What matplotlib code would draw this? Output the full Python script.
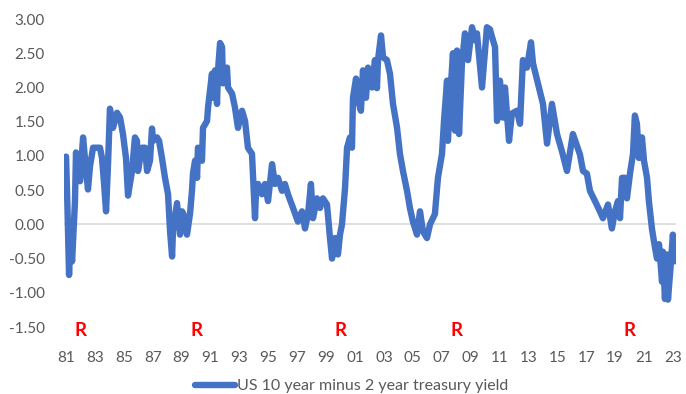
import numpy as np
import matplotlib.pyplot as plt

# 10y minus 2y US treasury spread, read as (decimal year, spread %)
years = [
    1981.00, 1981.07, 1981.14, 1981.21, 1981.28, 1981.42, 1981.55, 1981.62, 1981.69, 1981.83,
    1981.97, 1982.18, 1982.38, 1982.52, 1982.66, 1982.87, 1983.15, 1983.35, 1983.49, 1983.63,
    1983.77, 1983.91, 1984.04, 1984.25, 1984.53, 1984.74, 1984.94, 1985.15, 1985.29, 1985.57,
    1985.77, 1985.91, 1985.98, 1986.26, 1986.47, 1986.61, 1986.81, 1986.95, 1987.02, 1987.30,
    1987.44, 1987.64, 1987.85, 1988.06, 1988.20, 1988.34, 1988.40, 1988.54, 1988.68, 1988.89,
    1989.03, 1989.23, 1989.37, 1989.58, 1989.72, 1989.79, 1989.93, 1990.07, 1990.13, 1990.41,
    1990.48, 1990.76, 1990.83, 1991.10, 1991.17, 1991.31, 1991.45, 1991.52, 1991.66, 1991.80,
    1991.86, 1992.14, 1992.21, 1992.49, 1992.69, 1992.90, 1993.18, 1993.39, 1993.59, 1993.87,
    1994.08, 1994.15, 1994.29, 1994.56, 1994.77, 1994.98, 1995.26, 1995.46, 1995.67, 1995.95,
    1996.15, 1996.36, 1996.71, 1997.05, 1997.33, 1997.54, 1997.75, 1997.95, 1998.09, 1998.37,
    1998.58, 1998.78, 1999.06, 1999.27, 1999.41, 1999.61, 1999.82, 1999.96, 2000.10, 2000.31,
    2000.45, 2000.65, 2000.79, 2000.86, 2001.07, 2001.21, 2001.41, 2001.55, 2001.76, 2001.90,
    2002.18, 2002.38, 2002.52, 2002.59, 2002.80, 2002.94, 2003.21, 2003.42, 2003.63, 2003.91,
    2004.11, 2004.32, 2004.60, 2004.80, 2005.01, 2005.29, 2005.50, 2005.70, 2005.98, 2006.19,
    2006.53, 2006.74, 2007.02, 2007.16, 2007.37, 2007.43, 2007.57, 2007.78, 2007.92, 2008.06,
    2008.20, 2008.40, 2008.61, 2008.82, 2009.10, 2009.30, 2009.44, 2009.79, 2010.13, 2010.34,
    2010.48, 2010.69, 2010.83, 2011.03, 2011.24, 2011.38, 2011.66, 2011.86, 2012.21, 2012.42,
    2012.62, 2012.90, 2013.18, 2013.32, 2013.66, 2014.01, 2014.29, 2014.63, 2014.98, 2015.32,
    2015.67, 2016.08, 2016.57, 2016.78, 2017.05, 2017.26, 2017.61, 2017.95, 2018.16, 2018.51,
    2018.78, 2018.99, 2019.20, 2019.34, 2019.48, 2019.68, 2019.82, 2020.03, 2020.24, 2020.37,
    2020.51, 2020.65, 2020.86, 2021.00, 2021.21, 2021.34, 2021.55, 2021.69, 2021.90, 2022.04,
    2022.25, 2022.31, 2022.45, 2022.59, 2022.66, 2022.87, 2023.00, 2023.14,
]
spread = [
    0.99, 0.49, -0.10, -0.74, -0.25, -0.54, 0.04, 0.34, 1.05, 0.71,
    0.63, 1.27, 0.80, 0.51, 0.85, 1.12, 1.12, 1.12, 0.97, 0.60,
    0.19, 0.90, 1.69, 1.41, 1.63, 1.56, 1.32, 0.97, 0.42, 0.78,
    1.27, 1.22, 0.78, 1.12, 1.12, 0.78, 0.93, 1.40, 1.22, 1.27,
    1.22, 0.97, 0.68, 0.44, -0.10, -0.47, -0.10, 0.10, 0.31, -0.15,
    0.19, 0.10, -0.15, 0.15, 0.50, 0.75, 0.93, 0.68, 1.12, 0.93,
    1.41, 1.51, 1.71, 2.20, 1.85, 2.25, 1.76, 2.25, 2.65, 2.59,
    2.06, 2.29, 2.00, 1.91, 1.71, 1.41, 1.66, 1.51, 1.12, 1.03,
    0.09, 0.50, 0.59, 0.44, 0.59, 0.34, 0.88, 0.59, 0.68, 0.49,
    0.59, 0.44, 0.24, 0.04, 0.19, -0.06, 0.15, 0.59, 0.09, 0.38,
    0.24, 0.38, 0.29, -0.20, -0.50, -0.20, -0.44, -0.15, 0.00, 0.53,
    1.12, 1.27, 1.12, 1.85, 2.13, 1.81, 1.66, 2.25, 1.85, 2.29,
    2.00, 2.40, 1.99, 2.40, 2.76, 2.44, 2.40, 2.20, 1.76, 1.41,
    1.03, 0.78, 0.49, 0.24, 0.04, -0.15, 0.19, -0.10, -0.20, 0.00,
    0.15, 0.68, 1.03, 1.51, 2.10, 1.22, 1.81, 2.50, 1.37, 2.54,
    1.32, 2.35, 2.79, 2.40, 2.88, 2.69, 2.79, 2.00, 2.88, 2.85,
    2.74, 2.59, 1.51, 2.10, 1.56, 2.00, 1.22, 1.62, 1.66, 1.47,
    2.40, 2.29, 2.66, 2.35, 2.06, 1.76, 1.18, 1.76, 1.32, 1.07,
    0.78, 1.32, 1.02, 0.78, 0.74, 0.49, 0.34, 0.19, 0.09, 0.29,
    -0.06, 0.19, 0.34, 0.09, 0.68, 0.68, 0.38, 0.74, 1.03, 1.59,
    1.47, 0.97, 1.27, 0.93, 0.68, 0.34, -0.06, -0.25, -0.50, -0.29,
    -0.84, -0.40, -1.09, -0.44, -1.10, -0.54, -0.15, -0.54,
]

tick_years = list(range(1981, 2024, 2))
tick_labels = ['%02d' % (y % 100) for y in tick_years]

# recessions flagged with an "R" under the axis
recession_years = [1982.0, 1990.0, 2000.0, 2008.0, 2020.0, 2024.2]

blue = '#4472C4'
grey = '#595959'
plt.rcParams['font.family'] = ['Lato', 'DejaVu Sans']

fig = plt.figure(figsize=(6.86, 3.94), dpi=100)
ax = fig.add_axes([0.0933, 0.170, 0.892, 0.7817])

ax.plot(years, spread, color=blue, lw=4.6, solid_joinstyle='round',
        solid_capstyle='round', label='US 10 year minus 2 year treasury yield')
ax.axhline(0, color='#d9d9d9', lw=1.2, zorder=0)

ax.set_xlim(1980.86, 2023.21)
ax.set_ylim(-1.5, 3.0)
ax.set_yticks(np.arange(-1.5, 3.01, 0.5))
ax.set_yticklabels(['%.2f' % v for v in np.arange(-1.5, 3.01, 0.5)])
ax.set_xticks(tick_years)
ax.set_xticklabels(tick_labels)
ax.tick_params(axis='both', length=0, labelsize=11, colors=grey)
ax.tick_params(axis='y', pad=14)
ax.tick_params(axis='x', pad=17)
for s in ax.spines.values():
    s.set_visible(False)

for ry in recession_years:
    ax.text(ry, -1.545, 'R', color='red', fontsize=13.5, fontweight='bold',
            ha='center', va='center', clip_on=False)

fig.legend(loc='center', bbox_to_anchor=(0.513, 0.02), frameon=False,
           fontsize=11.5, labelcolor=grey, handlelength=2.5, handletextpad=0.15)

fig.savefig('out.png', dpi=100)
